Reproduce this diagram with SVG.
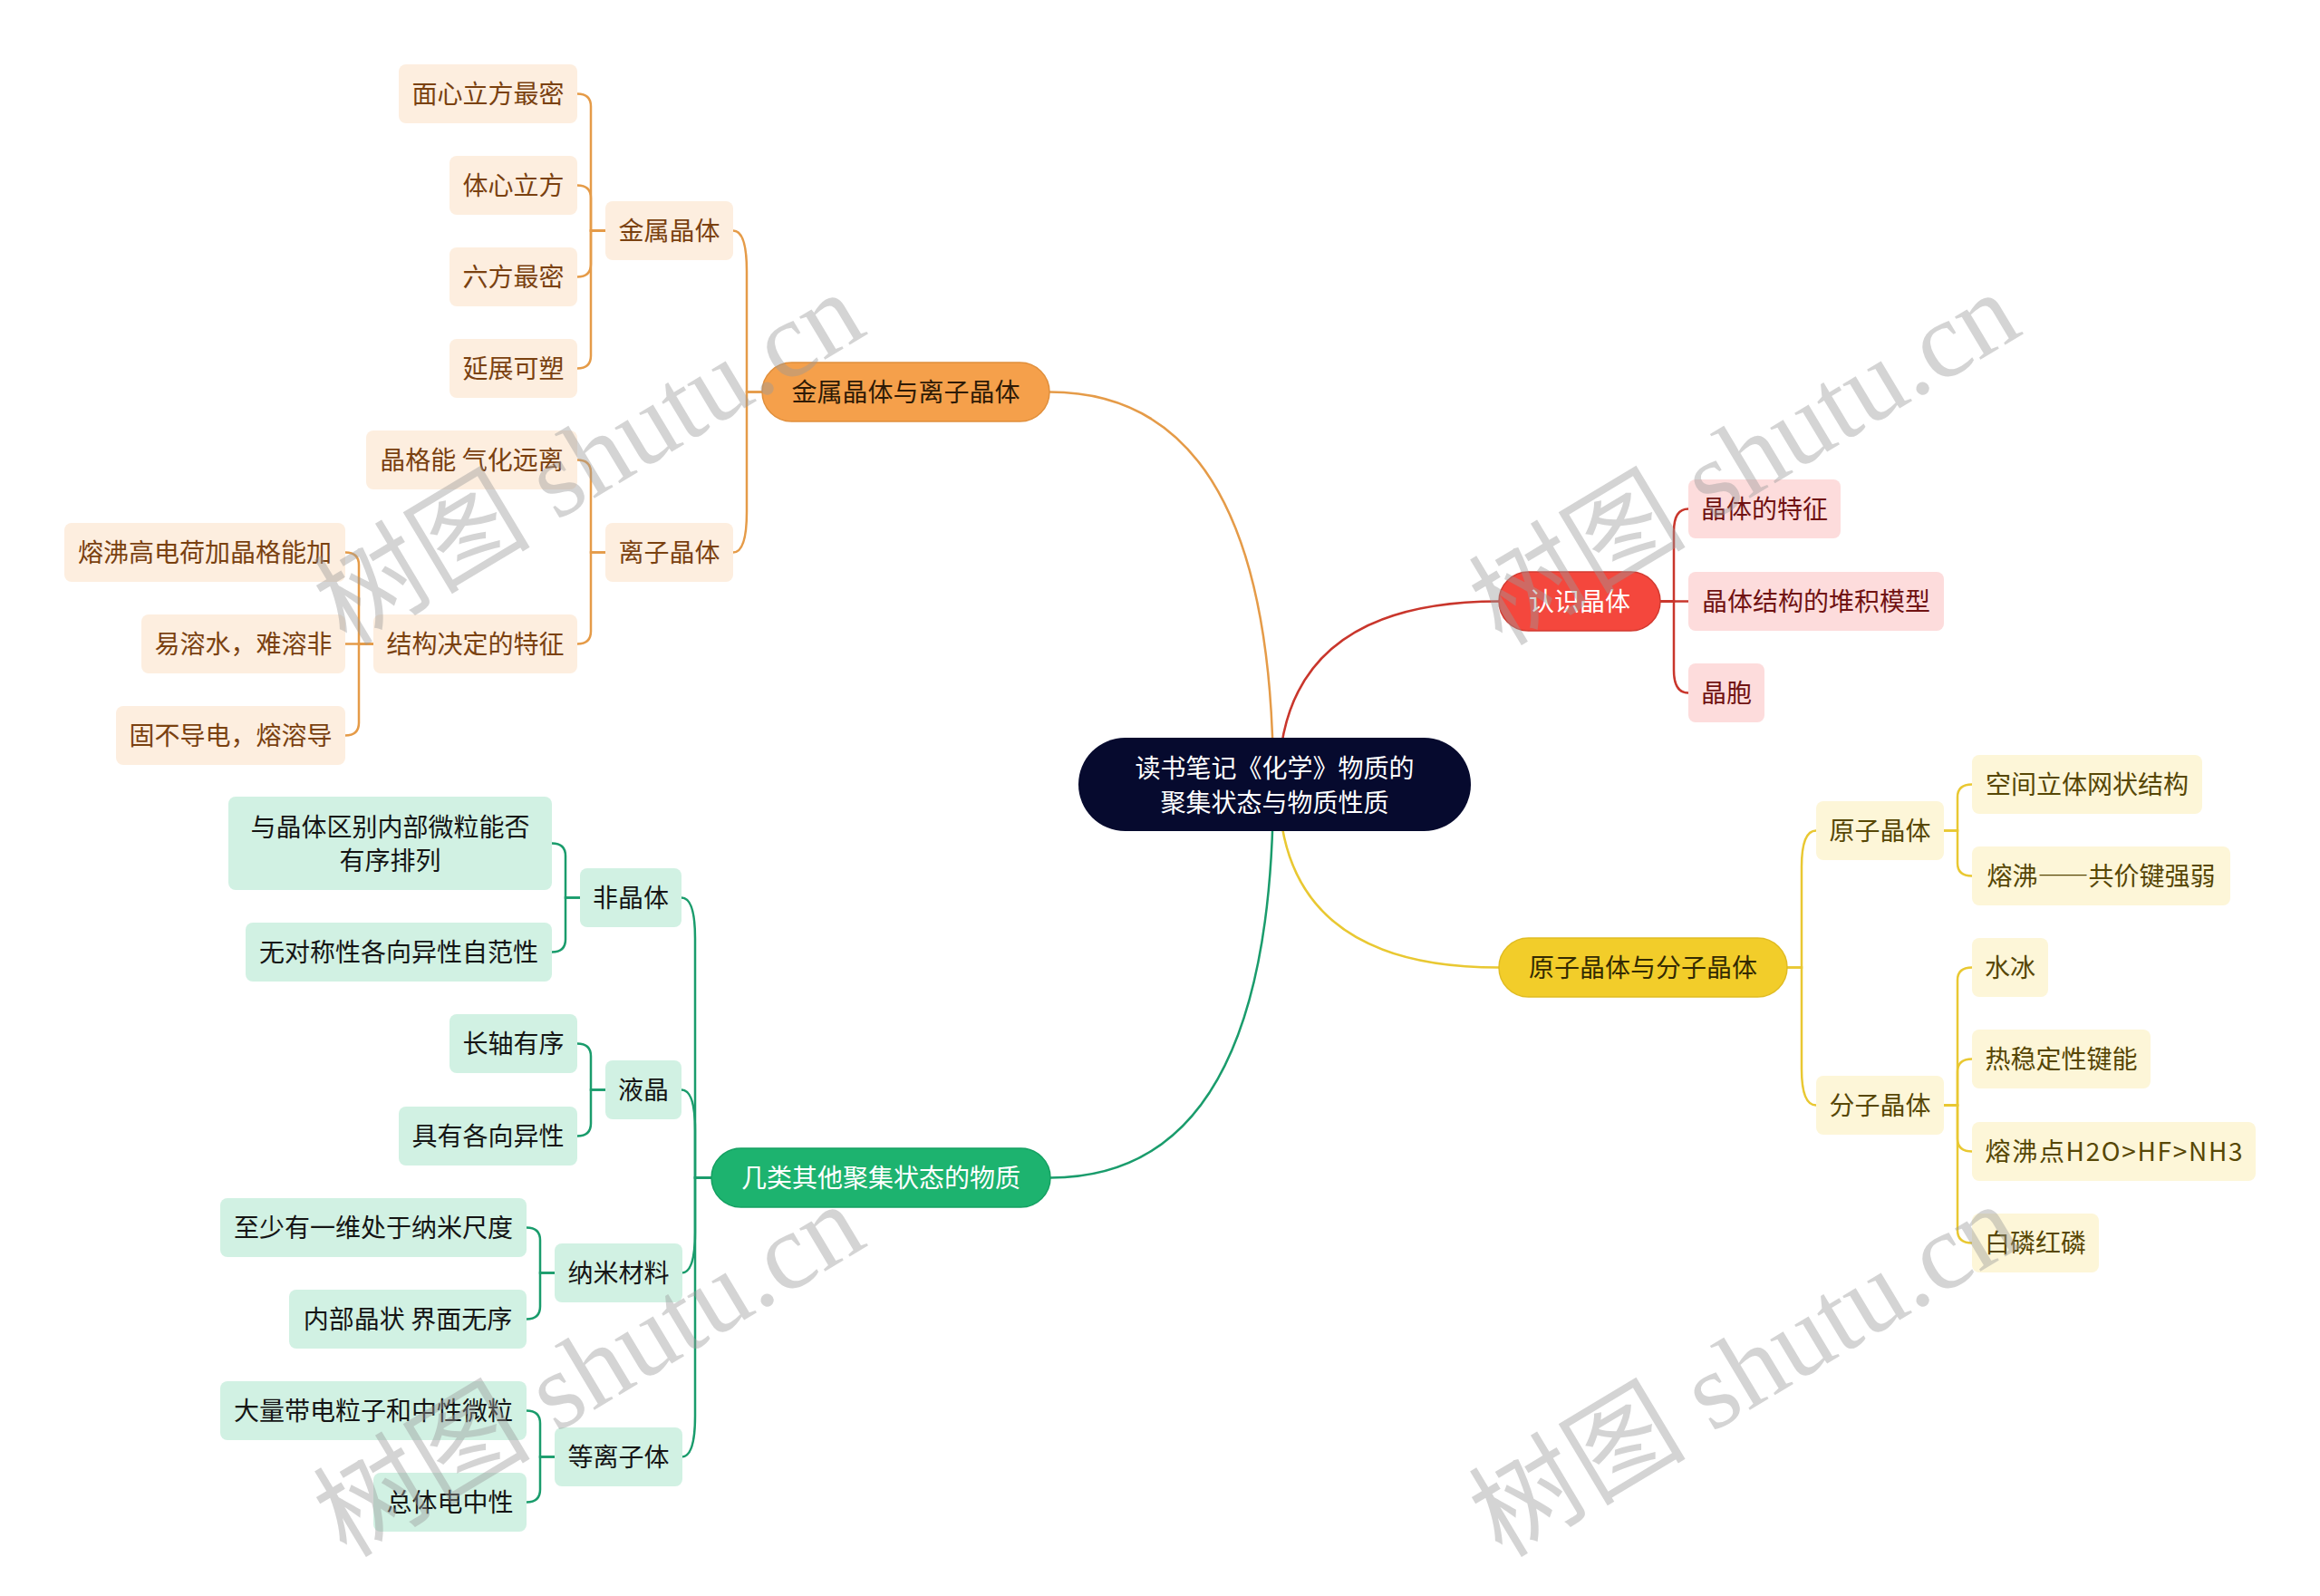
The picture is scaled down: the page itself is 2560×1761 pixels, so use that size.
<svg xmlns="http://www.w3.org/2000/svg" width="2560" height="1761" viewBox="0 0 2560 1761">
<style>
text{font-family:"Noto Sans CJK SC","Noto Sans",sans-serif;font-size:28px;text-anchor:middle;dominant-baseline:central}
g[id^="n-"] text,#root text{transform:translateY(-1.5px)}
.fw{font-feature-settings:"fwid" 1}
.lo{fill:#fdeedf}.to{fill:#7a4110}
.lr{fill:#fddcdc}.tr{fill:#701212}
.ly{fill:#fdf6d8}.ty{fill:#574705}
.lg{fill:#d1f1e3}.tg{fill:#151515}
.co{fill:none;stroke:#e59b48;stroke-width:2.5}
.cr{fill:none;stroke:#c9362c;stroke-width:2.5}
.cy{fill:none;stroke:#e9c832;stroke-width:2.5}
.cg{fill:none;stroke:#1a9c6c;stroke-width:2.5}
.wm{font-family:"Liberation Serif","Noto Sans CJK SC",serif;font-size:120px;fill:#9a9a9a;opacity:0.42}
</style>
<rect width="2560" height="1761" fill="#ffffff"/>
<g id="connectors">
<path class="co" d="M1405 865 Q1405 432.5 1158 432.5"/>
<path class="cr" d="M1411 865 Q1411 663.5 1654 663.5"/>
<path class="cy" d="M1411 865 Q1411 1067.5 1654 1067.5"/>
<path class="cg" d="M1405 865 Q1405 1299.5 1159 1299.5"/>
<path class="co" d="M841 432.5 H824 V299.5 Q824 254.5 809 254.5"/>
<path class="co" d="M841 432.5 H824 V564.5 Q824 609.5 809 609.5"/>
<path class="co" d="M668 254.5 H652 V117.5 Q652 103.5 637 103.5"/>
<path class="co" d="M668 254.5 H652 V218.5 Q652 204.5 637 204.5"/>
<path class="co" d="M668 254.5 H652 V291.5 Q652 305.5 637 305.5"/>
<path class="co" d="M668 254.5 H652 V392.5 Q652 406.5 637 406.5"/>
<path class="co" d="M668 609.5 H652 V521.5 Q652 507.5 637 507.5"/>
<path class="co" d="M668 609.5 H652 V696.5 Q652 710.5 637 710.5"/>
<path class="co" d="M412 710.5 H396 V623.5 Q396 609.5 381 609.5"/>
<path class="co" d="M412 710.5 H381"/>
<path class="co" d="M412 710.5 H396 V797.5 Q396 811.5 381 811.5"/>
<path class="cr" d="M1832 663.5 H1847 V586.5 Q1847 561.5 1863 561.5"/>
<path class="cr" d="M1832 663.5 H1863"/>
<path class="cr" d="M1832 663.5 H1847 V739.5 Q1847 764.5 1863 764.5"/>
<path class="cy" d="M1972 1067.5 H1988 V956.5 Q1988 916.5 2004 916.5"/>
<path class="cy" d="M1972 1067.5 H1988 V1179.5 Q1988 1219.5 2004 1219.5"/>
<path class="cy" d="M2145 916.5 H2160 V879.5 Q2160 865.5 2176 865.5"/>
<path class="cy" d="M2145 916.5 H2160 V952.5 Q2160 966.5 2176 966.5"/>
<path class="cy" d="M2145 1219.5 H2160 V1081.5 Q2160 1067.5 2176 1067.5"/>
<path class="cy" d="M2145 1219.5 H2160 V1182.5 Q2160 1168.5 2176 1168.5"/>
<path class="cy" d="M2145 1219.5 H2160 V1256.5 Q2160 1270.5 2176 1270.5"/>
<path class="cy" d="M2145 1219.5 H2160 V1357.5 Q2160 1371.5 2176 1371.5"/>
<path class="cg" d="M785 1299.5 H767 V1035.5 Q767 990.5 752 990.5"/>
<path class="cg" d="M785 1299.5 H767 V1247.5 Q767 1202.5 752 1202.5"/>
<path class="cg" d="M785 1299.5 H767 V1359.5 Q767 1404.5 752 1404.5"/>
<path class="cg" d="M785 1299.5 H767 V1562.5 Q767 1607.5 752 1607.5"/>
<path class="cg" d="M640 990.5 H624 V944.5 Q624 930.5 609 930.5"/>
<path class="cg" d="M640 990.5 H624 V1036.5 Q624 1050.5 609 1050.5"/>
<path class="cg" d="M668 1202.5 H652 V1165.5 Q652 1151.5 637 1151.5"/>
<path class="cg" d="M668 1202.5 H652 V1239.5 Q652 1253.5 637 1253.5"/>
<path class="cg" d="M612 1404.5 H596 V1368.5 Q596 1354.5 581 1354.5"/>
<path class="cg" d="M612 1404.5 H596 V1441.5 Q596 1455.5 581 1455.5"/>
<path class="cg" d="M612 1607.5 H596 V1570.5 Q596 1556.5 581 1556.5"/>
<path class="cg" d="M612 1607.5 H596 V1643.5 Q596 1657.5 581 1657.5"/>
</g>
<g id="root"><rect x="1190" y="814" width="433" height="103" rx="51.5" fill="#060a2e"/><text x="1406.5" y="847" fill="#ffffff">读书笔记《化学》物质的</text><text x="1406.5" y="885" fill="#ffffff">聚集状态与物质性质</text></g>
<g id="n-metal-ion"><rect x="841" y="400" width="317" height="65" rx="32.5" fill="#f5a04b" stroke="#e08f3c" stroke-width="1.5"/><text x="999.5" y="432.5" fill="#2e1a06">金属晶体与离子晶体</text></g>
<g id="n-metal"><rect class="lo" x="668" y="222" width="141" height="65" rx="8"/><text class="to" x="738.5" y="254.5">金属晶体</text></g>
<g id="n-fcc"><rect class="lo" x="440" y="71" width="197" height="65" rx="8"/><text class="to" x="538.5" y="103.5">面心立方最密</text></g>
<g id="n-bcc"><rect class="lo" x="496" y="172" width="141" height="65" rx="8"/><text class="to" x="566.5" y="204.5">体心立方</text></g>
<g id="n-hcp"><rect class="lo" x="496" y="273" width="141" height="65" rx="8"/><text class="to" x="566.5" y="305.5">六方最密</text></g>
<g id="n-ductile"><rect class="lo" x="496" y="374" width="141" height="65" rx="8"/><text class="to" x="566.5" y="406.5">延展可塑</text></g>
<g id="n-ionic"><rect class="lo" x="668" y="577" width="141" height="65" rx="8"/><text class="to" x="738.5" y="609.5">离子晶体</text></g>
<g id="n-lattice"><rect class="lo" x="404" y="475" width="233" height="65" rx="8"/><text class="to" x="520.5" y="507.5">晶格能 气化远离</text></g>
<g id="n-struct"><rect class="lo" x="412" y="678" width="225" height="65" rx="8"/><text class="to" x="524.5" y="710.5">结构决定的特征</text></g>
<g id="n-mp"><rect class="lo" x="71" y="577" width="310" height="65" rx="8"/><text class="to" x="226" y="609.5">熔沸高电荷加晶格能加</text></g>
<g id="n-sol"><rect class="lo" x="156" y="678" width="225" height="65" rx="8"/><text class="to" x="268.5" y="710.5">易溶水，难溶非</text></g>
<g id="n-cond"><rect class="lo" x="128" y="779" width="253" height="65" rx="8"/><text class="to" x="254.5" y="811.5">固不导电，熔溶导</text></g>
<g id="n-know"><rect x="1654" y="631" width="178" height="65" rx="32.5" fill="#f4473d" stroke="#d23a30" stroke-width="1.5"/><text x="1743" y="663.5" fill="#ffffff">认识晶体</text></g>
<g id="n-feat"><rect class="lr" x="1863" y="529" width="168" height="65" rx="8"/><text class="tr" x="1947" y="561.5">晶体的特征</text></g>
<g id="n-pack"><rect class="lr" x="1863" y="631" width="282" height="65" rx="8"/><text class="tr" x="2004" y="663.5">晶体结构的堆积模型</text></g>
<g id="n-cell"><rect class="lr" x="1863" y="732" width="84" height="65" rx="8"/><text class="tr" x="1905" y="764.5">晶胞</text></g>
<g id="n-atom-mol"><rect x="1654" y="1035" width="318" height="65" rx="32.5" fill="#f2cd2a" stroke="#e0bc22" stroke-width="1.5"/><text x="1813" y="1067.5" fill="#332a02">原子晶体与分子晶体</text></g>
<g id="n-atomic"><rect class="ly" x="2004" y="884" width="141" height="65" rx="8"/><text class="ty" x="2074.5" y="916.5">原子晶体</text></g>
<g id="n-net"><rect class="ly" x="2176" y="833" width="254" height="65" rx="8"/><text class="ty" x="2303" y="865.5">空间立体网状结构</text></g>
<g id="n-cov"><rect class="ly" x="2176" y="934" width="285" height="65" rx="8"/><text class="ty" x="2318.5" y="966.5">熔沸<tspan class="fw">——</tspan>共价键强弱</text></g>
<g id="n-molec"><rect class="ly" x="2004" y="1187" width="141" height="65" rx="8"/><text class="ty" x="2074.5" y="1219.5">分子晶体</text></g>
<g id="n-ice"><rect class="ly" x="2176" y="1035" width="84" height="65" rx="8"/><text class="ty" x="2218" y="1067.5">水冰</text></g>
<g id="n-therm"><rect class="ly" x="2176" y="1136" width="197" height="65" rx="8"/><text class="ty" x="2274.5" y="1168.5">热稳定性键能</text></g>
<g id="n-bp"><rect class="ly" x="2176" y="1238" width="313" height="65" rx="8"/><text class="ty" x="2332.5" y="1270.5" textLength="284" lengthAdjust="spacing">熔沸点H2O&gt;HF&gt;NH3</text></g>
<g id="n-p"><rect class="ly" x="2176" y="1339" width="140" height="65" rx="8"/><text class="ty" x="2246" y="1371.5">白磷红磷</text></g>
<g id="n-other"><rect x="785" y="1267" width="374" height="65" rx="32.5" fill="#1db36f" stroke="#14a062" stroke-width="1.5"/><text x="972" y="1299.5" fill="#ffffff">几类其他聚集状态的物质</text></g>
<g id="n-amorph"><rect class="lg" x="640" y="958" width="112" height="65" rx="8"/><text class="tg" x="696" y="990.5">非晶体</text></g>
<g id="n-diff"><rect class="lg" x="252" y="879" width="357" height="103" rx="8"/><text class="tg" x="430.5" y="912">与晶体区别内部微粒能否</text><text class="tg" x="430.5" y="949">有序排列</text></g>
<g id="n-nosym"><rect class="lg" x="271" y="1018" width="338" height="65" rx="8"/><text class="tg" x="440" y="1050.5">无对称性各向异性自范性</text></g>
<g id="n-lc"><rect class="lg" x="668" y="1170" width="84" height="65" rx="8"/><text class="tg" x="710" y="1202.5">液晶</text></g>
<g id="n-axis"><rect class="lg" x="496" y="1119" width="141" height="65" rx="8"/><text class="tg" x="566.5" y="1151.5">长轴有序</text></g>
<g id="n-aniso"><rect class="lg" x="440" y="1221" width="197" height="65" rx="8"/><text class="tg" x="538.5" y="1253.5">具有各向异性</text></g>
<g id="n-nano"><rect class="lg" x="612" y="1372" width="141" height="65" rx="8"/><text class="tg" x="682.5" y="1404.5">纳米材料</text></g>
<g id="n-dim"><rect class="lg" x="243" y="1322" width="338" height="65" rx="8"/><text class="tg" x="412" y="1354.5">至少有一维处于纳米尺度</text></g>
<g id="n-inner"><rect class="lg" x="319" y="1423" width="262" height="65" rx="8"/><text class="tg" x="450" y="1455.5">内部晶状 界面无序</text></g>
<g id="n-plasma"><rect class="lg" x="612" y="1575" width="141" height="65" rx="8"/><text class="tg" x="682.5" y="1607.5">等离子体</text></g>
<g id="n-charged"><rect class="lg" x="243" y="1524" width="338" height="65" rx="8"/><text class="tg" x="412" y="1556.5">大量带电粒子和中性微粒</text></g>
<g id="n-neutral"><rect class="lg" x="412" y="1625" width="169" height="65" rx="8"/><text class="tg" x="496.5" y="1657.5">总体电中性</text></g>
<g id="watermarks">
<text class="wm" x="650" y="506" transform="rotate(-31 650 506)">树图 shutu.cn</text>
<text class="wm" x="1925" y="506" transform="rotate(-31 1925 506)">树图 shutu.cn</text>
<text class="wm" x="650" y="1512" transform="rotate(-31 650 1512)">树图 shutu.cn</text>
<text class="wm" x="1925" y="1512" transform="rotate(-31 1925 1512)">树图 shutu.cn</text>
</g>
</svg>
